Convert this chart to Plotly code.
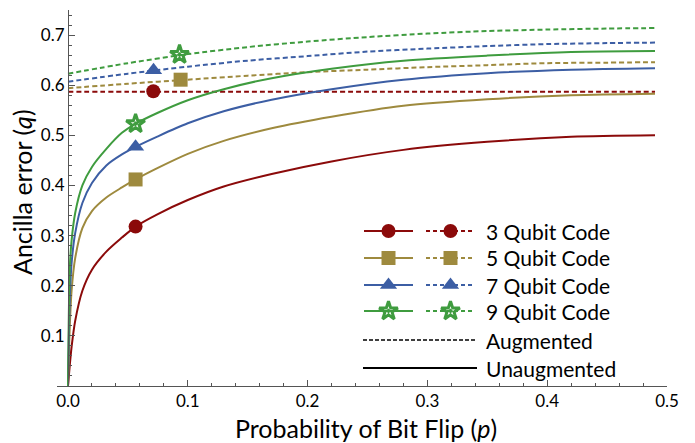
import plotly.graph_objects as go

# ---------------- data ----------------
p_solid = [0, 0.0015, 0.003, 0.006, 0.012, 0.02, 0.032, 0.045, 0.0564, 0.075, 0.1, 0.13, 0.17, 0.22, 0.28, 0.35, 0.42, 0.49]
q3_solid = [0, 0.042, 0.078, 0.130, 0.190, 0.232, 0.268, 0.296, 0.318, 0.343, 0.371, 0.398, 0.423, 0.448, 0.471, 0.487, 0.497, 0.500]
q5_solid = [0, 0.120, 0.190, 0.255, 0.315, 0.349, 0.376, 0.396, 0.412, 0.435, 0.463, 0.489, 0.514, 0.537, 0.559, 0.572, 0.580, 0.583]
q7_solid = [0, 0.175, 0.245, 0.305, 0.365, 0.405, 0.440, 0.462, 0.477, 0.498, 0.524, 0.548, 0.571, 0.592, 0.611, 0.624, 0.631, 0.634]
q9_solid = [0, 0.235, 0.290, 0.345, 0.400, 0.437, 0.473, 0.505, 0.523, 0.545, 0.570, 0.592, 0.614, 0.633, 0.649, 0.659, 0.666, 0.668]

p_dash = [0, 0.05, 0.1, 0.15, 0.2, 0.25, 0.3, 0.35, 0.4, 0.45, 0.49]
q3_dash = [0.587, 0.587, 0.587, 0.587, 0.587, 0.587, 0.587, 0.587, 0.587, 0.587, 0.587]
q5_dash = [0.594, 0.603, 0.611, 0.619, 0.626, 0.631, 0.636, 0.640, 0.644, 0.645, 0.646]
q7_dash = [0.607, 0.623, 0.637, 0.649, 0.658, 0.667, 0.673, 0.678, 0.682, 0.684, 0.685]
q9_dash = [0.623, 0.644, 0.662, 0.676, 0.687, 0.696, 0.703, 0.708, 0.711, 0.713, 0.714]

# marker points on each curve
mark_solid_p = [0.0564, 0.0564, 0.0564, 0.0564]
mark_solid_q = [0.318, 0.412, 0.477, 0.523]
mark_dash_p = [0.0712, 0.094, 0.0714, 0.0931]
mark_dash_q = [0.588, 0.611, 0.630, 0.661]

codes = ["3 Qubit Code", "5 Qubit Code", "7 Qubit Code", "9 Qubit Code"]
x_ticks = [0.0, 0.1, 0.2, 0.3, 0.4, 0.5]
y_ticks = [0.1, 0.2, 0.3, 0.4, 0.5, 0.6, 0.7]

# ---------------- styles ----------------
colors = ["#8b0a0a", "#9e8a3e", "#3c5ea4", "#3f9c3f"]
symbols = ["circle", "square", "triangle-up", "star-open-dot"]
sizes = [14, 14, 15, 14]
FONT = "Lato, 'Open Sans', sans-serif"
DASH = "5px,3px"
AX = "#555555"

solids = [q3_solid, q5_solid, q7_solid, q9_solid]
dashes = [q3_dash, q5_dash, q7_dash, q9_dash]


def marker(i):
    if symbols[i] == "star-open-dot":
        return dict(symbol=symbols[i], size=sizes[i], color=colors[i],
                    line=dict(color=colors[i], width=3))
    return dict(symbol=symbols[i], size=sizes[i], color=colors[i], line=dict(width=0))


fig = go.Figure()

for i in range(4):
    fig.add_trace(go.Scatter(x=p_dash, y=dashes[i], mode="lines",
                             line=dict(color=colors[i], width=2, dash=DASH, shape="spline", smoothing=0.8),
                             showlegend=False, hoverinfo="skip"))
for i in range(4):
    fig.add_trace(go.Scatter(x=p_solid, y=solids[i], mode="lines",
                             line=dict(color=colors[i], width=2, shape="spline", smoothing=0.8),
                             showlegend=False, hoverinfo="skip"))
for i in range(4):
    fig.add_trace(go.Scatter(x=[mark_solid_p[i]], y=[mark_solid_q[i]], mode="markers",
                             marker=marker(i), showlegend=False, hoverinfo="skip"))
    fig.add_trace(go.Scatter(x=[mark_dash_p[i]], y=[mark_dash_q[i]], mode="markers",
                             marker=marker(i), showlegend=False, hoverinfo="skip"))

# ---------------- geometry (screen pixels; page body adds an 8px offset) ----------------
OFF = 8
SCR_W, SCR_H = 695, 443
PLOT_L, PLOT_R, PLOT_T, PLOT_B = 57, 667, 10, 386   # plot area in screen pixels
W, H = SCR_W - OFF, SCR_H - OFF
L, T = PLOT_L - OFF, PLOT_T - OFF
R, B = W - (PLOT_R - OFF), H - (PLOT_B - OFF)
PW, PH = PLOT_R - PLOT_L, PLOT_B - PLOT_T


def px_x(x):
    return (x - PLOT_L) / PW


def px_y(y):
    return (PLOT_B - y) / PH


# ---------------- custom legend on a pixel-based overlay axis ----------------
row_y = [231, 258, 285, 311, 340, 368]
sol_x0, sol_x1 = 364, 413
dsh_x0, dsh_x1 = 426, 475
text_x = 485
LEG_FONT = dict(family=FONT, size=21, color="black")
for i in range(4):
    y = row_y[i]
    fig.add_trace(go.Scatter(x=[sol_x0, sol_x1], y=[y, y], mode="lines", xaxis="x2", yaxis="y2",
                             line=dict(color=colors[i], width=2), showlegend=False, hoverinfo="skip"))
    fig.add_trace(go.Scatter(x=[dsh_x0, dsh_x1], y=[y, y], mode="lines", xaxis="x2", yaxis="y2",
                             line=dict(color=colors[i], width=2, dash="4px,3px"), showlegend=False, hoverinfo="skip"))
    fig.add_trace(go.Scatter(x=[(sol_x0 + sol_x1) / 2, (dsh_x0 + dsh_x1) / 2], y=[y, y], mode="markers",
                             xaxis="x2", yaxis="y2", marker=marker(i), showlegend=False, hoverinfo="skip"))
    fig.add_annotation(x=px_x(text_x), y=px_y(y), xref="paper", yref="paper", text=codes[i], showarrow=False,
                       xanchor="left", yanchor="middle", borderpad=0, font=LEG_FONT)

fig.add_trace(go.Scatter(x=[363, 477], y=[row_y[4], row_y[4]], mode="lines", xaxis="x2", yaxis="y2",
                         line=dict(color="black", width=1.5, dash="4px,2px"), showlegend=False, hoverinfo="skip"))
fig.add_trace(go.Scatter(x=[363, 477], y=[row_y[5], row_y[5]], mode="lines", xaxis="x2", yaxis="y2",
                         line=dict(color="black", width=2), showlegend=False, hoverinfo="skip"))
for k, label in [(4, "Augmented"), (5, "Unaugmented")]:
    fig.add_annotation(x=px_x(text_x), y=px_y(row_y[k]), xref="paper", yref="paper", text=label, showarrow=False,
                       xanchor="left", yanchor="middle", borderpad=0, font=LEG_FONT)

# axis titles
fig.add_annotation(x=px_x(366), y=px_y(428), xref="paper", yref="paper",
                   text="Probability of Bit Flip (<i>p</i>)", showarrow=False,
                   xanchor="center", yanchor="middle", font=dict(family=FONT, size=25, color="black"))
fig.add_annotation(x=px_x(22), y=px_y(192), xref="paper", yref="paper",
                   text="Ancilla error (<i>q</i>)", showarrow=False, textangle=-90,
                   xanchor="center", yanchor="middle", font=dict(family=FONT, size=25, color="black"))

fig.update_layout(
    width=W, height=H,
    margin=dict(l=L, r=R, t=T, b=B, pad=0),
    paper_bgcolor="white", plot_bgcolor="white",
    font=dict(family=FONT, size=16, color="black"),
    xaxis=dict(range=[-11 / 1198, 0.5], domain=[0, 1], anchor="y", automargin=False,
               tickvals=x_ticks, ticktext=[f"{v:.1f}" for v in x_ticks],
               ticks="inside", ticklen=6, tickwidth=1, tickcolor=AX,
               minor=dict(dtick=0.02, tick0=0, ticks="inside", ticklen=3, tickcolor=AX),
               showline=True, linecolor=AX, linewidth=1, showgrid=False, zeroline=False,
               tickfont=dict(family=FONT, size=17, color="black")),
    yaxis=dict(range=[0, 0.75], domain=[0, 1], anchor="free", position=11 / PW, automargin=False,
               tickvals=y_ticks, ticktext=[f"{v:.1f}" for v in y_ticks],
               ticks="inside", ticklen=6, tickwidth=1, tickcolor=AX,
               minor=dict(dtick=0.02, tick0=0, ticks="inside", ticklen=3, tickcolor=AX),
               showline=True, linecolor=AX, linewidth=1, showgrid=False, zeroline=False,
               tickfont=dict(family=FONT, size=17, color="black")),
    xaxis2=dict(range=[PLOT_L, PLOT_R], domain=[0, 1], overlaying="x", anchor="y2", visible=False, fixedrange=True),
    yaxis2=dict(range=[PLOT_B, PLOT_T], domain=[0, 1], overlaying="y", anchor="x2", visible=False, fixedrange=True),
)

fig.write_html("out.html")
